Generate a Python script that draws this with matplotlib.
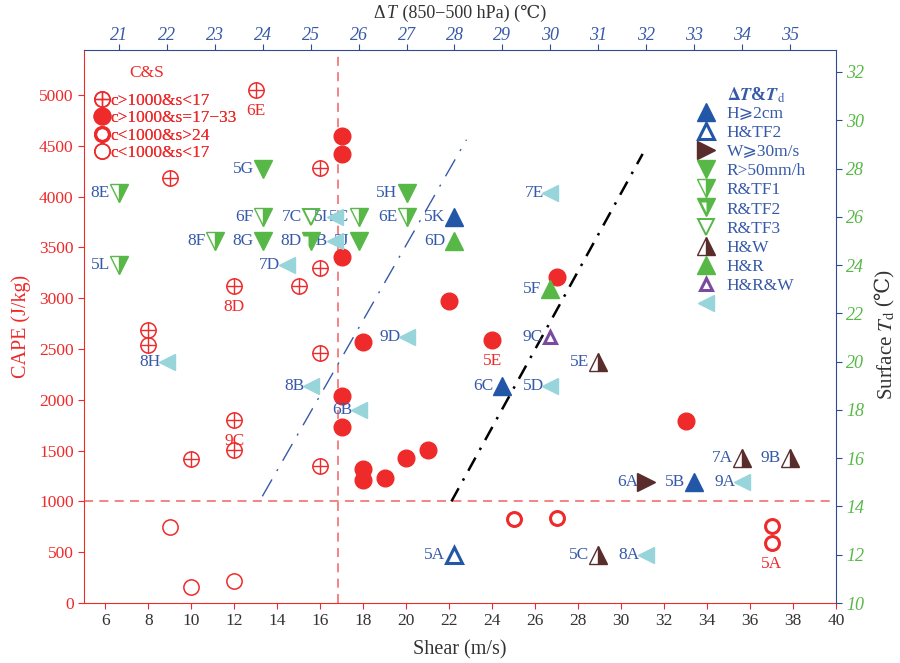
import matplotlib
matplotlib.use('Agg')
import matplotlib.pyplot as plt
from matplotlib.lines import Line2D
from matplotlib.offsetbox import TextArea, HPacker, AnnotationBbox
from matplotlib.text import Annotation

FAMILY = ['Liberation Serif', 'DejaVu Serif', 'DejaVu Sans']
plt.rcParams['font.family'] = FAMILY
plt.rcParams['mathtext.fontset'] = 'stix'
plt.rcParams['font.size'] = 12.5

# ---------------- data: CAPE vs shear (bottom / left axes) ----------------
plus_shear = [13, 9, 16, 12, 16, 15, 8, 8, 16, 12, 12, 10, 16]
plus_cape = [5050, 4180, 4280, 3120, 3300, 3120, 2690, 2540, 2460, 1800, 1505, 1420, 1345]

fill_shear = [17, 17, 17, 18, 22, 24, 27, 17, 17, 18, 18, 19, 20, 21, 33]
fill_cape = [4600, 4420, 3405, 2570, 2975, 2590, 3210, 2035, 1730, 1320, 1210, 1230, 1425, 1505, 1795]

thin_shear = [9, 10, 12]
thin_cape = [750, 160, 215]

thick_shear = [25, 27, 37, 37]
thick_cape = [825, 840, 760, 590]

cape_label_names = ['6E', '8D', '9C', '5E', '5A']
cape_label_shear = [13, 12, 12, 24, 37]
cape_label_cape = [5050, 3120, 1800, 2590, 590]

cape_threshold = 1000
shear_threshold = 16.8
blue_line_shear = [13.3, 22.8]
blue_line_cape = [1050, 4560]
black_line_shear = [22.1, 31.0]
black_line_cape = [1000, 4420]

# ---------------- data: dT vs Td (top / right axes) ----------------
hail_names = ['5K', '6C', '5B']
hail_dt = [28, 29, 33]
hail_td = [26, 19, 15]

htf2_names = ['5A']
htf2_dt = [28]
htf2_td = [12]

wind_names = ['6A']
wind_dt = [32]
wind_td = [15]

rain_names = ['5G', '8G', '5J', '5H']
rain_dt = [24, 24, 26, 27]
rain_td = [28, 25, 25, 27]

rtf1_names = ['8E', '5L', '6F', '8F', '6E', '5C']
rtf1_dt = [21, 21, 24, 23, 27, 26]
rtf1_td = [27, 24, 26, 25, 26, 26]

rtf2_names = ['8D']
rtf2_dt = [25]
rtf2_td = [25]

rtf3_names = ['7C']
rtf3_dt = [25]
rtf3_td = [26]

hw_names = ['5E', '7A', '9B', '5C']
hw_dt = [31, 34, 35, 31]
hw_td = [20, 16, 16, 12]

hr_names = ['6D', '5F']
hr_dt = [28, 30]
hr_td = [25, 23]

hrw_names = ['9C']
hrw_dt = [30]
hrw_td = [21]

cyan_names = ['7E', '9D', '8H', '8B', '5D', '6B', '9A', '8A', '5I', '7B', '7D']
cyan_dt = [30, 27, 22, 25, 30, 26, 34, 32, 25.5, 25.5, 24.5]
cyan_td = [27, 21, 20, 19, 19, 18, 15, 12, 26, 25, 24]

shear_ticks = list(range(6, 41, 2))
cape_ticks = list(range(0, 5001, 500))
dt_ticks = list(range(21, 36))
td_ticks = list(range(10, 33, 2))

cs_labels = ['c>1000&s<17', 'c>1000&s=17\u221233', 'c<1000&s>24', 'c<1000&s<17']
dt_labels = ['H\u2a7e2cm', 'H&TF2', 'W\u2a7e30m/s', 'R>50mm/h', 'R&TF1', 'R&TF2',
             'R&TF3', 'H&W', 'H&R', 'H&R&W', '']

# ---------------- styles ----------------
RED = '#EE2A2A'
LRED = '#F37A7A'
BLUE = '#2256A6'
LBLUE = '#3659A8'
AXBLUE = '#2E4C8E'
GREEN = '#57B847'
BROWN = '#5A2D2D'
PURPLE = '#7A4A9E'
CYAN = '#98D5DB'
DARK = '#333333'

fig = plt.figure(figsize=(9, 6.63), dpi=100)
rect = [84 / 900, 60 / 663, 752 / 900, 553 / 663]
ax = fig.add_axes(rect)
ax2 = fig.add_axes(rect)
ax2.patch.set_alpha(0)

ax.set_xlim(5, 40)
ax.set_ylim(0, 5443)
ax2.set_xlim(20.27, 35.96)
ax2.set_ylim(10, 32.91)

# spines
ax.spines['top'].set_visible(False)
ax.spines['right'].set_visible(False)
ax.spines['left'].set_color(RED)
ax.spines['bottom'].set_color(RED)
ax2.spines['left'].set_visible(False)
ax2.spines['bottom'].set_visible(False)
ax2.spines['top'].set_color(AXBLUE)
ax2.spines['right'].set_color(AXBLUE)

# ticks
ax.set_xticks(shear_ticks)
ax.set_yticks(cape_ticks)
ax.tick_params(axis='x', color=RED, labelcolor=DARK, length=4, labelsize=12.5)
ax.tick_params(axis='y', color=RED, labelcolor=RED, length=4, labelsize=12.5)
ax2.xaxis.tick_top()
ax2.yaxis.tick_right()
ax2.set_xticks(dt_ticks, labels=[str(t) for t in dt_ticks], fontstyle='italic')
ax2.set_yticks(td_ticks, labels=[str(t) for t in td_ticks], fontstyle='italic')
ax2.tick_params(axis='x', color=AXBLUE, labelcolor=LBLUE, length=4, labelsize=13, pad=0)
ax2.tick_params(axis='y', color=AXBLUE, labelcolor=GREEN, length=4, labelsize=13)

ax.set_xlabel('Shear (m/s)', color=DARK, fontsize=14.5, labelpad=8)
ax.set_ylabel('CAPE (J/kg)', color=RED, fontsize=14.5, labelpad=6)

# top label: "ΔT (850−500 hPa) (℃)" with italic T
tp = dict(color=DARK, fontsize=13, family=FAMILY)
top_parts = [TextArea('\u0394', textprops=tp),
             TextArea('T', textprops=dict(tp, style='italic')),
             TextArea(' (850\u2212500 hPa) (\u2103)', textprops=tp)]
top_box = HPacker(children=top_parts, align='baseline', pad=0, sep=1)
fig.add_artist(AnnotationBbox(top_box, (460 / 900, 1 - 13 / 663), xycoords='figure fraction',
                              frameon=False, box_alignment=(0.5, 0.5), pad=0))

# right label: "Surface Td (℃)"
rlab = fig.text(886 / 900, (663 - 400) / 663, 'Surface $T_{\\rm d}$', rotation=90,
                ha='center', va='bottom', fontsize=15, color=DARK)
fig.add_artist(Annotation('(\u2103)', xy=(0.5, 1), xycoords=rlab, xytext=(-1.5, 3),
                          textcoords='offset points', rotation=90, ha='center', va='bottom',
                          fontsize=15, color=DARK))

# reference lines
ax.axhline(cape_threshold, color=LRED, lw=1.3, ls=(0, (5, 3.5)), zorder=1)
ax.axvline(shear_threshold, color=LRED, lw=1.3, ls=(0, (5, 3.5)), zorder=1)
ax.plot(blue_line_shear, blue_line_cape, color=LBLUE, lw=1.0, ls=(0, (14, 7, 1.5, 7)), zorder=1)
ax.plot(black_line_shear, black_line_cape, color='black', lw=1.8, ls=(0, (6, 3.5, 1, 3.5)), zorder=1)

# CAPE / shear points
ax.plot(plus_shear, plus_cape, 'o', ms=11, mfc='none', mec=RED, mew=1.1, zorder=3)
ax.plot(plus_shear, plus_cape, '+', ms=11, mec=RED, mew=1.0, zorder=3)
ax.plot(fill_shear, fill_cape, 'o', ms=12, mfc=RED, mec=RED, zorder=3)
ax.plot(thin_shear, thin_cape, 'o', ms=11, mfc='none', mec=RED, mew=1.1, zorder=3)
ax.plot(thick_shear, thick_cape, 'o', ms=10, mfc='none', mec=RED, mew=2.2, zorder=3)
for n, x, y in zip(cape_label_names, cape_label_shear, cape_label_cape):
    ax.annotate(n, (x, y), xytext=(0, -15), textcoords='offset points',
                ha='center', va='center', color=RED, fontsize=12.5)

# dT / Td points
styles = {
    'hail': dict(marker='^', ms=13, mfc=BLUE, mec=BLUE, ls='none'),
    'htf2': dict(marker='^', ms=12, mfc='none', mec=BLUE, mew=2.2, ls='none'),
    'wind': dict(marker='>', ms=13, mfc=BROWN, mec=BROWN, ls='none'),
    'rain': dict(marker='v', ms=13, mfc=GREEN, mec=GREEN, ls='none'),
    'rtf1': dict(marker='v', ms=13, mfc=GREEN, mfcalt='white', fillstyle='right', mec=GREEN, mew=1.0, ls='none'),
    'rtf2': dict(marker='v', ms=13, mfc=GREEN, mec=GREEN, ls='none'),
    'rtf2b': dict(marker='v', ms=7, mfc='white', mfcalt='none', fillstyle='left', mec='none', ls='none'),
    'rtf3': dict(marker='v', ms=12, mfc='none', mec=GREEN, mew=1.4, ls='none'),
    'hw': dict(marker='^', ms=13, mfc=BROWN, mfcalt='white', fillstyle='right', mec=BROWN, mew=1.0, ls='none'),
    'hr': dict(marker='^', ms=13, mfc=GREEN, mec=GREEN, ls='none'),
    'hrw': dict(marker='^', ms=9, mfc='none', mec=PURPLE, mew=2.2, ls='none'),
    'cyan': dict(marker='<', ms=11, mfc=CYAN, mec=CYAN, ls='none'),
}

groups = [
    ('rain', rain_names, rain_dt, rain_td, 6.5),
    ('rtf1', rtf1_names, rtf1_dt, rtf1_td, 6.5),
    ('rtf2', rtf2_names, rtf2_dt, rtf2_td, 6.5),
    ('rtf3', rtf3_names, rtf3_dt, rtf3_td, 6.5),
    ('hail', hail_names, hail_dt, hail_td, 6.5),
    ('htf2', htf2_names, htf2_dt, htf2_td, 6.5),
    ('wind', wind_names, wind_dt, wind_td, 5.5),
    ('hw', hw_names, hw_dt, hw_td, 6.5),
    ('hr', hr_names, hr_dt, hr_td, 6.5),
    ('hrw', hrw_names, hrw_dt, hrw_td, 5.5),
    ('cyan', cyan_names, cyan_dt, cyan_td, 4.5),
]
for key, names, xs, ys, off in groups:
    for n, x, y in zip(names, xs, ys):
        ax2.annotate(n, (x, y), xytext=(-off, 0), textcoords='offset points',
                     ha='right', va='center', color=LBLUE, fontsize=12.5, zorder=2)
    ax2.plot(xs, ys, zorder=4, **styles[key])
    if key == 'rtf2':
        ax2.plot([x - 0.06 for x in xs], ys, zorder=5, **styles['rtf2b'])

# legends
cs_handles = [
    (Line2D([], [], marker='o', ms=11, mfc='none', mec=RED, mew=1.1, ls='none'),
     Line2D([], [], marker='+', ms=11, mec=RED, mew=1.0, ls='none')),
    Line2D([], [], marker='o', ms=12, mfc=RED, mec=RED, ls='none'),
    Line2D([], [], marker='o', ms=10, mfc='none', mec=RED, mew=2.2, ls='none'),
    Line2D([], [], marker='o', ms=11, mfc='none', mec=RED, mew=1.1, ls='none'),
]
leg1 = ax.legend(cs_handles, cs_labels, loc='upper left', bbox_to_anchor=(0.012, 0.923),
                 frameon=False, borderpad=0, borderaxespad=0, handlelength=1.0,
                 handletextpad=0.0, labelspacing=0.08, fontsize=12.5, labelcolor=RED)
ax.add_artist(leg1)
ax.text(0.0838, 0.958, 'C&S', transform=ax.transAxes, color=RED, fontsize=12.5,
        ha='center', va='center')

dt_keys = ['hail', 'htf2', 'wind', 'rain', 'rtf1', 'rtf2', 'rtf3', 'hw', 'hr', 'hrw', 'cyan']
dt_handles = []
for k in dt_keys:
    h = Line2D([], [], **styles[k])
    if k == 'rtf2':
        h = (h, Line2D([], [], **styles['rtf2b']))
    dt_handles.append(h)
leg2 = ax2.legend(dt_handles, dt_labels, loc='upper left', bbox_to_anchor=(0.813, 0.899),
                  frameon=False, borderpad=0, borderaxespad=0, handlelength=1.2,
                  handletextpad=0.6, labelspacing=0.17, fontsize=12.5, labelcolor=LBLUE)
ax2.text(0.855, 0.918, r'$\mathbf{\Delta}\boldsymbol{T}$&$\boldsymbol{T}_{\rm d}$',
         transform=ax2.transAxes, color=LBLUE, fontsize=13, ha='left', va='center',
         fontweight='bold')

fig.savefig('out.png', dpi=100)
